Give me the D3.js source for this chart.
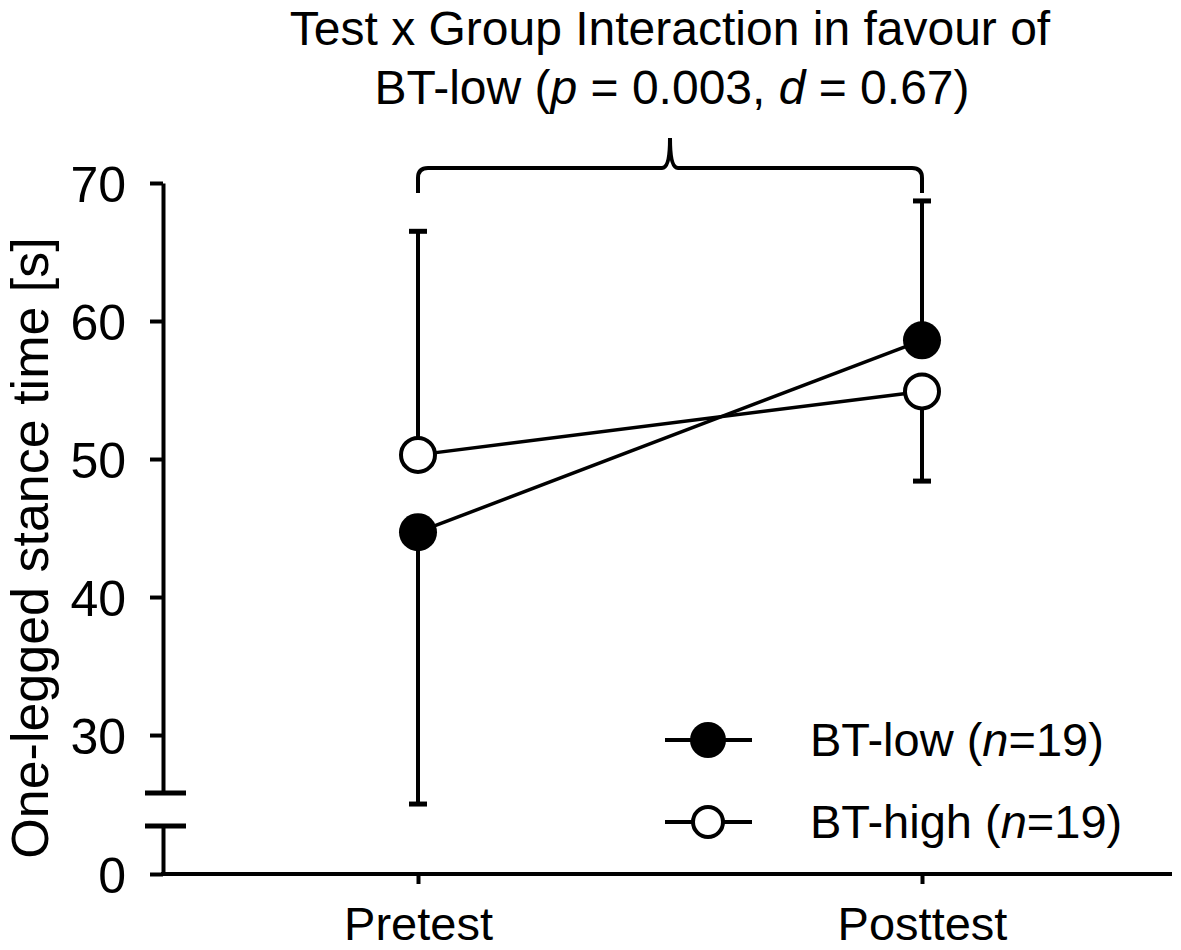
<!DOCTYPE html>
<html><head><meta charset="utf-8">
<script src="https://cdn.jsdelivr.net/npm/d3@7"></script>
<style>
body{margin:0;background:#fff;}
text{font-family:"Liberation Sans",Arial,sans-serif;fill:#000;}
</style></head>
<body><svg id="c" width="1181" height="950"></svg>
<script>
// ---- data ----
const tests = ["Pretest", "Posttest"];
const groups = ["BT-low", "BT-high"];
const btLow = [44.7, 58.6];      // means
const btHigh = [50.3, 54.9];
const btLowSD = [19.7, 10.1];
const btHighSD = [16.2, 6.5];
const yTicksUpper = [30, 40, 50, 60, 70];
const yTicksLower = [0];
const titleLine1 = "Test x Group Interaction in favour of";
const yLabel = "One-legged stance time [s]";

const svg = d3.select("#c");
const FONT = "Liberation Sans, Arial, sans-serif";

// scales
const x = d3.scalePoint().domain(tests).range([418, 922]);
const yUp = d3.scaleLinear().domain([25.8, 70]).range([793, 183]);
const yLow = d3.scaleLinear().domain([0, 3.5]).range([874, 826]);
const axisX = 163;

// y axis
const gUp = svg.append("g").attr("transform", `translate(${axisX},0)`)
  .call(d3.axisLeft(yUp).tickValues(yTicksUpper).tickFormat(d3.format("d")).tickSize(13).tickSizeOuter(0).tickPadding(24));
const gLow = svg.append("g").attr("transform", `translate(${axisX},0)`)
  .call(d3.axisLeft(yLow).tickValues(yTicksLower).tickFormat(d3.format("d")).tickSize(13).tickSizeOuter(0).tickPadding(24));
[gUp, gLow].forEach(g => {
  g.select(".domain").attr("stroke", "#000").attr("stroke-width", 4);
  g.selectAll(".tick line").attr("stroke", "#000").attr("stroke-width", 4);
  g.selectAll(".tick text").style("font-size", "50px").style("font-family", FONT).attr("fill", "#000").attr("dy", "0.36em");
});
// break marks
[yUp.range()[0], yLow.range()[1]].forEach(yy => {
  svg.append("line").attr("x1", axisX - 18).attr("x2", axisX + 23).attr("y1", yy).attr("y2", yy)
    .attr("stroke", "#000").attr("stroke-width", 5);
});

// x axis
svg.append("line").attr("x1", axisX - 2).attr("x2", 1172).attr("y1", yLow(0)).attr("y2", yLow(0))
  .attr("stroke", "#000").attr("stroke-width", 4);
const gx = svg.append("g").attr("transform", `translate(0,${yLow(0)})`)
  .call(d3.axisBottom(x).tickSize(10).tickPadding(23));
gx.select(".domain").remove();
gx.selectAll(".tick line").attr("stroke", "#000").attr("stroke-width", 4);
gx.selectAll(".tick text").style("font-size", "47px").style("font-family", FONT).attr("fill", "#000");

// y label
svg.append("text").attr("transform", "translate(48,548) rotate(-90)")
  .attr("text-anchor", "middle").style("font-size", "52px").text(yLabel);

// error bars
function errBars(means, sds, other) {
  means.forEach((m, i) => {
    const up = m >= other[i];
    const end = up ? m + sds[i] : m - sds[i];
    const cx = x(tests[i]);
    svg.append("line").attr("x1", cx).attr("x2", cx).attr("y1", yUp(m)).attr("y2", yUp(end))
      .attr("stroke", "#000").attr("stroke-width", 4);
    svg.append("line").attr("x1", cx - 9).attr("x2", cx + 9).attr("y1", yUp(end)).attr("y2", yUp(end))
      .attr("stroke", "#000").attr("stroke-width", 5);
  });
}
errBars(btLow, btLowSD, btHigh);
errBars(btHigh, btHighSD, btLow);

// lines
const line = d3.line().x((d, i) => x(tests[i])).y(d => yUp(d));
[btHigh, btLow].forEach(s => {
  svg.append("path").datum(s).attr("d", line).attr("fill", "none").attr("stroke", "#000").attr("stroke-width", 3.5);
});
// points
svg.selectAll(".pl").data(btLow).enter().append("circle")
  .attr("cx", (d, i) => x(tests[i])).attr("cy", d => yUp(d)).attr("r", 19).attr("fill", "#000");
svg.selectAll(".ph").data(btHigh).enter().append("circle")
  .attr("cx", (d, i) => x(tests[i])).attr("cy", d => yUp(d)).attr("r", 17).attr("fill", "#fff")
  .attr("stroke", "#000").attr("stroke-width", 4);

// bracket
const bx0 = x(tests[0]), bx1 = x(tests[1]), bm = (bx0 + bx1) / 2;
const by = 168, bEnd = 193, bTip = 138;
svg.append("path").attr("d",
  `M${bx0},${bEnd} L${bx0},${by + 10} Q${bx0},${by} ${bx0 + 10},${by} L${bm - 8},${by} Q${bm},${by} ${bm},${bTip} ` +
  `Q${bm},${by} ${bm + 8},${by} L${bx1 - 10},${by} Q${bx1},${by} ${bx1},${by + 10} L${bx1},${bEnd}`)
  .attr("fill", "none").attr("stroke", "#000").attr("stroke-width", 4);

// title
svg.append("text").attr("x", 670).attr("y", 45).attr("text-anchor", "middle").style("font-size", "48px").text(titleLine1);
const t2 = svg.append("text").attr("x", 672).attr("y", 104).attr("text-anchor", "middle").style("font-size", "48px");
t2.append("tspan").text("BT-low (");
t2.append("tspan").style("font-style", "italic").text("p");
t2.append("tspan").text(" = 0.003, ");
t2.append("tspan").style("font-style", "italic").text("d");
t2.append("tspan").text(" = 0.67)");

// legend
const legY = [740, 822];
groups.forEach((g, i) => {
  const yy = legY[i];
  svg.append("line").attr("x1", 665).attr("x2", 752).attr("y1", yy).attr("y2", yy).attr("stroke", "#000").attr("stroke-width", 4);
  if (i === 0) svg.append("circle").attr("cx", 708).attr("cy", yy).attr("r", 18).attr("fill", "#000");
  else svg.append("circle").attr("cx", 708).attr("cy", yy).attr("r", 15).attr("fill", "#fff").attr("stroke", "#000").attr("stroke-width", 4);
  const t = svg.append("text").attr("x", 810).attr("y", yy + 16).style("font-size", "47px");
  t.append("tspan").text(g + " (");
  t.append("tspan").style("font-style", "italic").text("n");
  t.append("tspan").text("=19)");
});
</script></body></html>
